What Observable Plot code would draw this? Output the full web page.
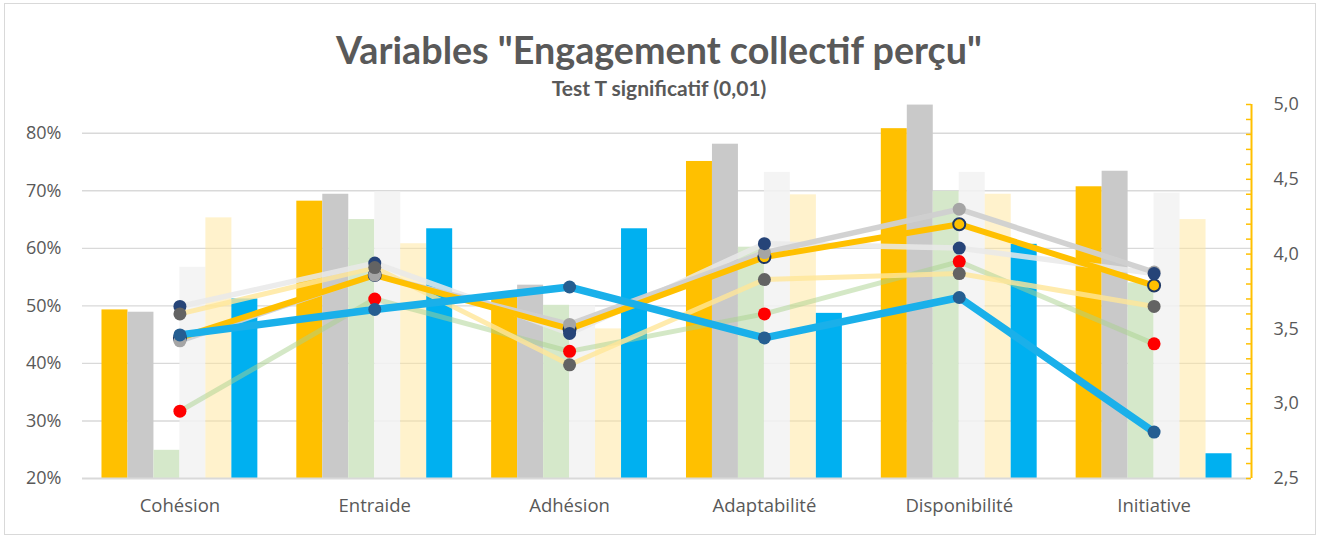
<!DOCTYPE html>
<html>
<head>
<meta charset="utf-8">
<script src="https://cdn.jsdelivr.net/npm/d3@7"></script>
<script src="https://cdn.jsdelivr.net/npm/@observablehq/plot@0.6"></script>
<style>
html, body { margin: 0; padding: 0; background: #fff; }
#wrap { position: relative; width: 1318px; height: 536px; overflow: hidden; font-family: "Open Sans", sans-serif; }
#frame { position: absolute; left: 4px; top: 3px; width: 1312px; height: 532px; border: 1px solid #d9d9d9; box-sizing: border-box; pointer-events: none; }
#head { position: relative; height: 80px; }
#title { position: absolute; left: 0; right: 0; top: 30px; line-height: 40px; text-align: center; color: #595959; font-family: Lato, sans-serif; font-weight: 700; white-space: nowrap; }
#subtitle { position: absolute; left: 0; right: 0; top: 79px; line-height: 18px; text-align: center; color: #595959; font-family: Lato, sans-serif; font-weight: 700; white-space: nowrap; z-index: 2; }
#chart svg { display: block; }
</style>
</head>
<body>
<div id="wrap">
  <div id="head">
    <div id="title">Variables "Engagement collectif perçu"</div>
    <div id="subtitle">Test T significatif (0,01)</div>
  </div>
  <div id="chart"></div>
  <div id="frame"></div>
</div>
<script>
// ---- data ----
const categories = ["Cohésion", "Entraide", "Adhésion", "Adaptabilité", "Disponibilité", "Initiative"];

// bars (left axis, %)
const barGold   = [49.3, 68.2, 51.5, 75.1, 80.8, 70.7];
const barGray   = [48.9, 69.4, 53.6, 78.1, 84.9, 73.4];
const barGreen  = [24.9, 65.0, 50.1, 60.2, 69.9, 54.0];
const barWhite  = [56.7, 69.8, 50.0, 73.2, 73.2, 69.6];
const barYellow = [65.3, 60.8, 46.0, 69.3, 69.4, 65.0];
const barBlue   = [51.2, 63.4, 63.4, 48.7, 60.7, 24.3];

// lines (right axis, 2,5 – 5,0)
const lineGold   = [3.44, 3.86, 3.50, 3.98, 4.20, 3.79];
const lineGray   = [3.42, 3.86, 3.53, 4.01, 4.30, 3.88];
const lineGreen  = [2.95, 3.70, 3.35, 3.60, 3.95, 3.40];
const lineWhite  = [3.65, 3.94, 3.47, 4.07, 4.04, 3.87];
const lineYellow = [3.60, 3.91, 3.26, 3.83, 3.87, 3.65];
const lineBlue   = [3.46, 3.63, 3.78, 3.44, 3.71, 2.81];

const leftTicks  = [20, 30, 40, 50, 60, 70, 80];
const rightTicks = [2.5, 3.0, 3.5, 4.0, 4.5, 5.0];

// ---- fit title fonts ----
function fitSize(text, weight, family, target) {
  const c = document.createElement("canvas").getContext("2d");
  c.font = `${weight} 100px ${family}`;
  return 100 * target / c.measureText(text).width;
}
const tEl = document.getElementById("title");
const sEl = document.getElementById("subtitle");
tEl.style.fontSize = fitSize(tEl.textContent, 700, "Lato", 647).toFixed(1) + "px";
sEl.style.fontSize = fitSize(sEl.textContent, 700, "Lato", 216).toFixed(1) + "px";

// ---- scales ----
const W = 1318, H = 456, mL = 82, mR = 67, mT = 24, mB = 58;
const yMin = 20, yMax = 85, rMin = 2.5, rMax = 5.0;
const toLeft = v => yMin + (v - rMin) * (yMax - yMin) / (rMax - rMin);
const fromLeft = y => rMin + (y - yMin) * (rMax - rMin) / (yMax - yMin);
const xMin = -0.5, xMax = categories.length - 0.5;
const groupWidth = 0.8;

const barSeries = [
  {values: barGold,   fill: "#FFC000", opacity: 1},
  {values: barGray,   fill: "#C9C9C9", opacity: 1},
  {values: barGreen,  fill: "#D5E8CA", opacity: 1},
  {values: barWhite,  fill: "#F2F2F2", opacity: 0.85},
  {values: barYellow, fill: "#FFE699", opacity: 0.5},
  {values: barBlue,   fill: "#00B0F0", opacity: 1}
];
const nb = barSeries.length;
const barMarks = barSeries.map((s, si) => {
  const rows = s.values.map((v, i) => ({
    cat: categories[i],
    x1: i - groupWidth / 2 + si * groupWidth / nb,
    x2: i - groupWidth / 2 + (si + 1) * groupWidth / nb,
    v
  }));
  return Plot.rectY(rows, {x1: "x1", x2: "x2", y1: yMin, y2: "v", fill: s.fill, fillOpacity: s.opacity});
});

const rowsOf = arr => arr.map((v, i) => ({i, cat: categories[i], v: toLeft(v)}));

const lineSeries = [
  {values: lineGreen,  stroke: "#A9D18E", width: 5,   opacity: 0.5},
  {values: lineYellow, stroke: "#FFE699", width: 5,   opacity: 0.8},
  {values: lineWhite,  stroke: "#E9E9E9", width: 5.5, opacity: 0.85},
  {values: lineGray,   stroke: "#D0D0D0", width: 5.5, opacity: 0.95},
  {values: lineGold,   stroke: "#FFC000", width: 6,   opacity: 1},
  {values: lineBlue,   stroke: "#1AB0EA", width: 7.5, opacity: 1}
];
const lineMarks = lineSeries.map(s =>
  Plot.line(rowsOf(s.values), {x: "i", y: "v", stroke: s.stroke, strokeWidth: s.width, strokeOpacity: s.opacity, strokeLinejoin: "miter", strokeLinecap: "butt"})
);

const dotMarks = [
  Plot.dot(rowsOf(lineGold),   {x: "i", y: "v", r: 6, fill: "#FFC000", stroke: "#1F3864", strokeWidth: 2}),
  Plot.dot(rowsOf(lineGray),   {x: "i", y: "v", r: 6.5, fill: "#A5A5A5"}),
  Plot.dot(rowsOf(lineWhite),  {x: "i", y: "v", r: 6.5, fill: "#264478"}),
  Plot.dot(rowsOf(lineGreen),  {x: "i", y: "v", r: 6.5, fill: "#FF0000"}),
  Plot.dot(rowsOf(lineYellow), {x: "i", y: "v", r: 6.5, fill: "#636363"}),
  Plot.dot(rowsOf(lineBlue),   {x: "i", y: "v", r: 6.5, fill: "#255E91"})
];

const minorTicks = d3.range(25, 51).map(k => toLeft(k / 10));
const plotW = W - mL - mR;

const chart = Plot.plot({
  width: W, height: H,
  marginLeft: mL, marginRight: mR, marginTop: mT, marginBottom: mB,
  style: {fontFamily: "'Open Sans', sans-serif", color: "#595959", background: "transparent", overflow: "visible"},
  x: {type: "linear", domain: [xMin, xMax], axis: null},
  y: {type: "linear", domain: [yMin, yMax], axis: null},
  marks: [
    Plot.gridY(leftTicks.slice(1), {stroke: "#D9D9D9", strokeOpacity: 1, strokeWidth: 1.4}),
    ...barMarks,
    Plot.ruleY([yMin], {stroke: "#D9D9D9", strokeWidth: 2}),
    ...lineMarks,
    ...dotMarks,
    // left axis
    Plot.axisY(leftTicks, {anchor: "left", tickSize: 0, tickPadding: 21, tickFormat: d => d + "%", fontSize: 18, fill: "#595959", label: null}),
    // bottom axis
    Plot.axisX(d3.range(categories.length), {anchor: "bottom", tickSize: 0, tickPadding: 20, tickFormat: i => categories[i], fontSize: 18.5, fill: "#595959", label: null}),
    // right axis
    Plot.ruleX([xMax], {y1: yMin, y2: yMax, stroke: "#FFC000", strokeWidth: 2}),
    Plot.gridY(minorTicks, {stroke: "#FFC000", strokeOpacity: 1, strokeWidth: 1.5, insetLeft: plotW - 5}),
    Plot.axisY(rightTicks.map(toLeft), {anchor: "right", tickSize: 0, tickPadding: 22, tickFormat: d => fromLeft(d).toFixed(1).replace(".", ","), fontSize: 18, fill: "#595959", label: null})
  ]
});
document.getElementById("chart").appendChild(chart);
</script>
</body>
</html>
